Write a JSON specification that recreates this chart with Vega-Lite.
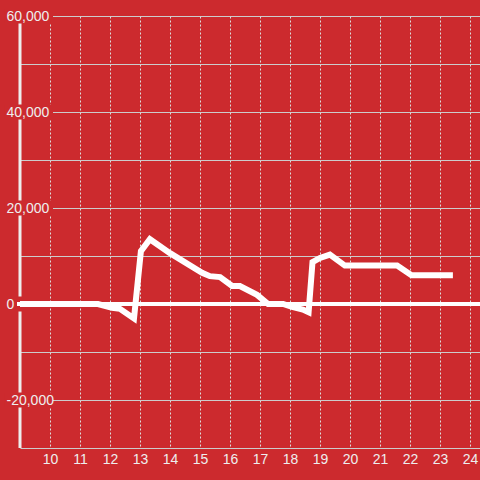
{
  "$schema": "https://vega.github.io/schema/vega-lite/v6.json",
  "width": 460,
  "height": 432,
  "autosize": {"type": "none"},
  "padding": {"left": 20, "top": 16, "right": 0, "bottom": 32},
  "background": "#cc2a2e",
  "config": {"view": {"stroke": null}, "font": "Liberation Sans", "scale": {"continuousPadding": 0}},
  "datasets": {
    "series": [
      {"hour": 9.0, "value": 0},
      {"hour": 11.6, "value": 0},
      {"hour": 12.07, "value": -800},
      {"hour": 12.33, "value": -1000},
      {"hour": 12.8, "value": -3000},
      {"hour": 13.03, "value": 11000},
      {"hour": 13.33, "value": 13500},
      {"hour": 14.0, "value": 10600},
      {"hour": 15.07, "value": 6500},
      {"hour": 15.33, "value": 5800},
      {"hour": 15.67, "value": 5600},
      {"hour": 16.07, "value": 3750},
      {"hour": 16.33, "value": 3750},
      {"hour": 16.9, "value": 1900},
      {"hour": 17.27, "value": 0},
      {"hour": 17.77, "value": 0},
      {"hour": 18.07, "value": -600},
      {"hour": 18.43, "value": -1150},
      {"hour": 18.62, "value": -1700},
      {"hour": 18.75, "value": 8750},
      {"hour": 19.0, "value": 9600},
      {"hour": 19.33, "value": 10300},
      {"hour": 19.83, "value": 8000},
      {"hour": 21.57, "value": 8000},
      {"hour": 22.05, "value": 6000},
      {"hour": 23.43, "value": 6000}
    ],
    "ylabels": [{"v": 60000}, {"v": 40000}, {"v": 20000}, {"v": -20000}],
    "one": [{}]
  },
  "resolve": {"axis": {"x": "independent", "y": "independent"}},
  "layer": [
    {
      "data": {"name": "one"},
      "mark": {"type": "rule", "color": "#eeeeee", "strokeWidth": 3},
      "encoding": {
        "x": {
          "datum": 9,
          "type": "quantitative",
          "scale": {"domain": [9, 24.3333], "nice": false, "zero": false, "padding": 0},
          "axis": null
        },
        "y": {
          "datum": -30000,
          "type": "quantitative",
          "scale": {"domain": [-30000, 60000], "nice": false, "zero": false, "padding": 0},
          "axis": {
            "orient": "left",
            "values": [-30000, -20000, -10000, 0, 10000, 20000, 30000, 40000, 50000, 60000],
            "labels": false,
            "domain": false,
            "ticks": false,
            "title": null,
            "grid": true,
            "gridColor": "#cccccc",
            "gridWidth": 1,
            "zindex": 0
          }
        },
        "y2": {"datum": 60000}
      }
    },
    {
      "data": {"name": "ylabels"},
      "mark": {"type": "bar", "color": "#cc2a2e", "height": 15, "orient": "horizontal"},
      "encoding": {
        "x": {"datum": 8.5, "type": "quantitative", "axis": null},
        "x2": {"datum": 10.1},
        "y": {"field": "v", "type": "quantitative", "axis": null}
      }
    },
    {
      "data": {"name": "one"},
      "mark": {"type": "bar", "color": "#cc2a2e", "height": 15, "orient": "horizontal"},
      "encoding": {
        "x": {"datum": 8.5, "type": "quantitative", "axis": null},
        "x2": {"datum": 9.1},
        "y": {"datum": 0, "type": "quantitative", "axis": null}
      }
    },
    {
      "data": {"name": "one"},
      "mark": {"type": "rule", "color": "#ffffff", "strokeWidth": 4},
      "encoding": {
        "x": {"datum": 8.9, "type": "quantitative", "axis": null},
        "x2": {"datum": 24.3333},
        "y": {"datum": 0, "type": "quantitative", "axis": null}
      }
    },
    {
      "data": {"name": "series"},
      "mark": {"type": "line", "color": "#ffffff", "strokeWidth": 6, "strokeJoin": "miter"},
      "encoding": {
        "x": {
          "field": "hour",
          "type": "quantitative",
          "scale": {"domain": [9, 24.3333], "nice": false, "zero": false, "padding": 0},
          "axis": {
            "orient": "bottom",
            "values": [10, 11, 12, 13, 14, 15, 16, 17, 18, 19, 20, 21, 22, 23, 24],
            "format": "d",
            "title": null,
            "domain": false,
            "ticks": false,
            "tickSize": 0,
            "labelPadding": 4,
            "labelFontSize": 14,
            "labelColor": "#eeeeee",
            "labelFlush": false,
            "labelOverlap": false,
            "grid": true,
            "gridColor": "#dddddd",
            "gridWidth": 1,
            "gridDash": [2, 2],
            "zindex": 0
          }
        },
        "y": {
          "field": "value",
          "type": "quantitative",
          "scale": {"domain": [-30000, 60000], "nice": false, "zero": false, "padding": 0},
          "axis": {
            "orient": "left",
            "values": [-20000, 0, 20000, 40000, 60000],
            "format": ",d",
            "labelExpr": "replace(datum.label, '\u2212', '-')",
            "title": null,
            "domain": false,
            "ticks": false,
            "tickSize": 0,
            "grid": false,
            "labelAlign": "left",
            "labelBaseline": "middle",
            "labelPadding": 14,
            "labelFontSize": 14,
            "labelColor": "#eeeeee",
            "labelFlush": false,
            "labelOverlap": false,
            "zindex": 1
          }
        }
      }
    }
  ]
}
